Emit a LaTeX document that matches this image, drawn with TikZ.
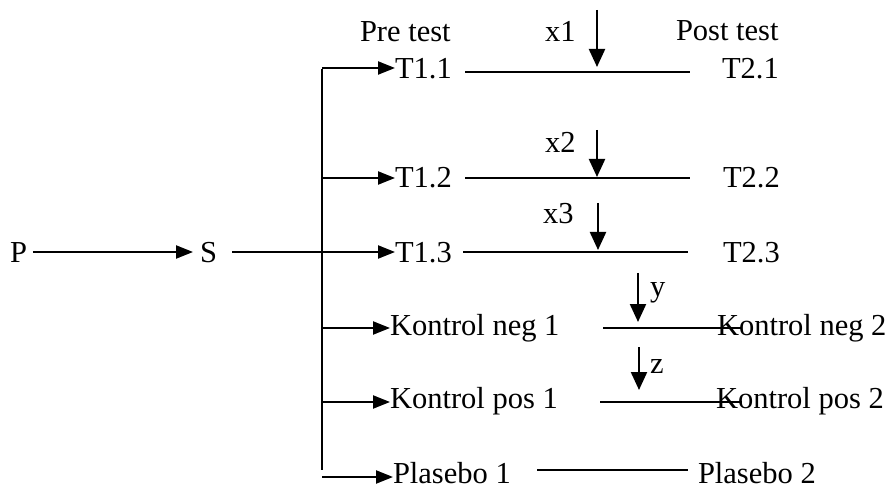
\documentclass[tikz,border=0pt]{standalone}
\usepackage{fontspec}
\setmainfont{Liberation Serif}
\usetikzlibrary{arrows.meta}
\begin{document}
\begin{tikzpicture}[x=1pt,y=-1pt,
  lbl/.style={anchor=base west, inner sep=0pt, outer sep=0pt,
              font=\fontsize{30.5}{36}\selectfont},
  conn/.style={line width=2.2pt},
  thinconn/.style={line width=1.5pt},
  arr/.style={line width=2.2pt, -{Triangle[length=17pt,width=13pt]}},
  downarr/.style={line width=2.2pt, -{Triangle[length=18pt,width=16pt]}}]
\useasboundingbox (0,0) rectangle (892,489);

% ---- labels ----
\node[lbl] (P)    at (10,262)  {P};
\node[lbl] (S)    at (200,262) {S};
\node[lbl] (pre)  at (360,42)  {Pre test};
\node[lbl] (post) at (676,41)  {Post test};

\node[lbl] (T11) at (395,79)  {T1.1};
\node[lbl] (T21) at (722,79)  {T2.1};
\node[lbl] (T12) at (395,188) {T1.2};
\node[lbl] (T22) at (723,188) {T2.2};
\node[lbl] (T13) at (395,263) {T1.3};
\node[lbl] (T23) at (723,263) {T2.3};
\node[lbl] (kn1) at (390,335) {Kontrol neg 1};
\node[lbl] (kn2) at (717,335) {Kontrol neg 2};
\node[lbl] (kp1) at (390,408) {Kontrol pos 1};
\node[lbl] (kp2) at (716,408) {Kontrol pos 2};
\node[lbl] (pl1) at (393,483) {Plasebo 1};
\node[lbl] (pl2) at (698,483) {Plasebo 2};

\node[lbl] (x1) at (545,42)  {x1};
\node[lbl] (x2) at (545,153) {x2};
\node[lbl] (x3) at (543,224) {x3};
\node[lbl] (ly) at (650,297) {y};
\node[lbl] (lz) at (650,373) {z};

% ---- P to S, S to the trunk ----
\draw[arr] ([xshift=6pt]P.east |- 0,252) -- (193,252) coordinate (Stip);
\coordinate (Sout) at (232,252);
\coordinate (tr3) at (322,252);
\draw[thinconn] (Sout) -- (tr3);

% ---- trunk and branches ----
\coordinate (trTop) at (322,69);
\coordinate (trBot) at (322,470);
\draw[conn] (trTop) -- (trBot);

\coordinate (tr1) at (322,68);
\coordinate (tr2) at (322,178);
\coordinate (tr4) at (322,328);
\coordinate (tr5) at (322,402);
\coordinate (tr6) at (322,477);
\draw[arr] (tr1) -- (tr1 -| T11.west);
\draw[arr] (tr2) -- (tr2 -| T12.west);
\draw[arr] (tr3) -- (tr3 -| T13.west);
\draw[arr] (tr4) -- (tr4 -| kn1.west);
\draw[arr] (tr5) -- (tr5 -| kp1.west);
\draw[arr] (tr6) -- (tr6 -| pl1.west);

% ---- pre test to post test lines ----
\coordinate (a1) at (465,72);  \coordinate (b1) at (690,72);
\coordinate (a2) at (465,178); \coordinate (b2) at (690,178);
\coordinate (a3) at (463,252); \coordinate (b3) at (688,252);
\coordinate (a4) at (603,328); \coordinate (b4) at (742,328);
\coordinate (a5) at (600,402); \coordinate (b5) at (742,402);
\coordinate (a6) at (537,470); \coordinate (b6) at (688,470);
\foreach \i in {1,...,6} \draw[conn] (a\i) -- (b\i);

% ---- treatment arrows ----
\coordinate (d1s) at (597,10);  \coordinate (d1e) at (597,67);
\coordinate (d2s) at (597,130); \coordinate (d2e) at (597,177);
\coordinate (d3s) at (598,203); \coordinate (d3e) at (598,250);
\coordinate (d4s) at (638,273); \coordinate (d4e) at (638,322);
\coordinate (d5s) at (639,347); \coordinate (d5e) at (639,390);
\foreach \i in {1,...,5} \draw[downarr] (d\i s) -- (d\i e);
\end{tikzpicture}
\end{document}
